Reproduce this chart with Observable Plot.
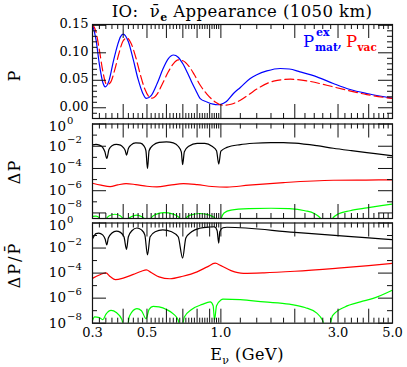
<!DOCTYPE html>
<html><head><meta charset="utf-8">
<script src="https://cdn.jsdelivr.net/npm/d3@7"></script>
<script src="https://cdn.jsdelivr.net/npm/@observablehq/plot@0.6"></script>
<style>
html,body{margin:0;padding:0;background:#fff;}
#chart{position:relative;width:407px;height:367px;overflow:hidden;font-family:"DejaVu Serif",serif;color:#000;}
#chart svg{position:absolute;left:0;top:0;}
.t{position:absolute;white-space:nowrap;line-height:1;font-family:"DejaVu Serif",serif;}
.s{font-weight:bold;}
</style></head><body><div id="chart"></div>
<script>
// ---------- data ----------
// top panel: oscillation probabilities
const E_mat = [0.30,0.31,0.32,0.331,0.338,0.35,0.365,0.38,0.39,0.40,0.42,0.44,0.46,0.48,0.497,0.52,0.55,0.58,0.61,0.641,0.67,0.70,0.73,0.76,0.79,0.824,0.877,0.93,0.97,1.0,1.05,1.125,1.2,1.317,1.4,1.539,1.745,1.9,2.1,2.46,2.87,3.36,3.93,4.5,5.0];
const P_mat = [0.152,0.124,0.079,0.045,0.038,0.049,0.085,0.115,0.129,0.134,0.120,0.087,0.052,0.027,0.017,0.022,0.044,0.070,0.089,0.096,0.092,0.080,0.064,0.047,0.032,0.0168,0.0106,0.0065,0.0055,0.0063,0.011,0.026,0.037,0.0533,0.060,0.067,0.0715,0.0705,0.0653,0.0562,0.0442,0.0332,0.026,0.021,0.0175];
const E_vac = [0.30,0.31,0.32,0.33,0.343,0.355,0.37,0.385,0.40,0.414,0.43,0.45,0.47,0.49,0.51,0.524,0.55,0.58,0.61,0.64,0.67,0.70,0.74,0.78,0.824,0.877,0.948,1.02,1.1,1.2,1.3,1.4,1.64,1.92,2.24,2.70,3.26,3.93,5.0];
const P_vac = [0.152,0.138,0.105,0.068,0.042,0.046,0.070,0.100,0.122,0.127,0.118,0.092,0.060,0.034,0.020,0.0175,0.025,0.045,0.065,0.080,0.087,0.0855,0.076,0.060,0.041,0.025,0.0106,0.0046,0.0065,0.0137,0.024,0.034,0.0484,0.052,0.049,0.041,0.032,0.024,0.0168];

// middle panel: Delta P
const E_dP_black = [0.30,0.31,0.32,0.33,0.337,0.343,0.35,0.36,0.375,0.39,0.40,0.408,0.4126,0.42,0.43,0.45,0.47,0.485,0.495,0.5025,0.51,0.53,0.56,0.60,0.64,0.67,0.69,0.6985,0.71,0.74,0.80,0.86,0.92,0.96,0.98,1.0,1.058,1.2,1.36,1.6,1.8,2.0,2.46,2.87,3.4,3.93,4.5,5.0];
const dP_black = [1.32e-2,1.48e-2,1.26e-2,7.94e-3,3.16e-3,7.94e-4,5.01e-3,1.12e-2,1.48e-2,1.26e-2,7.94e-3,3.98e-3,1.58e-3,6.31e-3,1.26e-2,2.0e-2,1.91e-2,1.12e-2,3.98e-3,1.0e-4,3.98e-3,1.26e-2,2.24e-2,2.51e-2,2.0e-2,1.0e-2,3.16e-3,2.24e-4,3.16e-3,1.0e-2,1.78e-2,1.78e-2,1.0e-2,3.98e-3,2.51e-4,3.55e-3,7.94e-3,1.41e-2,1.86e-2,2.14e-2,2.14e-2,1.91e-2,1.12e-2,6.61e-3,3.98e-3,2.63e-3,1.86e-3,1.41e-3];
const E_dP_red = [0.30,0.325,0.354,0.38,0.411,0.45,0.50,0.549,0.62,0.704,0.80,0.92,1.058,1.3,1.8,2.87,3.9,5.0];
const dP_red = [4.68e-6,3.16e-6,2.34e-6,3.31e-6,4.37e-6,3.55e-6,2.51e-6,2.24e-6,3.16e-6,4.37e-6,3.55e-6,2.40e-6,2.09e-6,3.16e-6,5.37e-6,8.71e-6,9.12e-6,9.33e-6];
const E_dP_green = [0.30,0.31,0.32,0.3326,0.3424,0.3515,0.370,0.389,0.398,0.408,0.420,0.431,0.454,0.477,0.488,0.50,0.52,0.54,0.585,0.64,0.675,0.6985,0.72,0.75,0.82,0.90,0.95,0.98,1.0,1.03,1.1,1.3,1.6,1.9,2.2,2.4,2.55,2.7,2.85,3.0,3.36,3.93,4.5,5.0];
const dP_green = [5.01e-9,5.25e-9,3.55e-9,3.16e-10,3.16e-9,5.62e-9,7.59e-9,5.62e-9,3.16e-9,3.16e-10,2.82e-9,4.47e-9,6.31e-9,4.47e-9,2.82e-9,3.16e-10,3.55e-9,7.08e-9,1.05e-8,7.94e-9,3.98e-9,3.16e-10,3.16e-9,6.31e-9,8.91e-9,6.31e-9,3.16e-9,3.16e-10,2.51e-9,1.0e-8,1.78e-8,2.40e-8,2.63e-8,2.40e-8,1.58e-8,8.91e-9,3.16e-9,3.16e-10,3.16e-9,7.94e-9,1.58e-8,2.82e-8,4.47e-8,6.31e-8];

// bottom panel: Delta P / P-bar
const E_rel_black = [0.30,0.31,0.318,0.33,0.338,0.343,0.348,0.36,0.375,0.39,0.403,0.4126,0.42,0.435,0.455,0.475,0.49,0.5025,0.515,0.54,0.58,0.63,0.67,0.6985,0.72,0.76,0.82,0.90,0.94,0.965,0.98,0.99,1.02,1.058,2.0,3.0,4.0,5.0];
const rel_black = [5.37e-2,0.141,0.158,0.112,5.01e-2,1.78e-2,6.31e-2,0.158,0.224,0.178,7.94e-2,7.94e-3,7.94e-2,0.251,0.398,0.282,0.112,2.82e-3,7.94e-2,0.2,0.282,0.2,7.94e-2,1.58e-3,6.31e-2,0.2,0.38,0.479,0.501,0.251,2.51e-2,0.2,0.417,0.457,0.178,9.77e-2,6.46e-2,4.68e-2];
const E_rel_red = [0.30,0.32,0.34,0.355,0.372,0.40,0.44,0.475,0.497,0.52,0.56,0.62,0.70,0.80,0.88,0.948,1.0,1.1,1.236,1.5,2.0,3.0,4.0,5.0];
const rel_red = [3.80e-5,7.08e-5,1.05e-4,5.01e-5,3.02e-5,3.98e-5,7.94e-5,1.41e-4,1.78e-4,1.12e-4,5.01e-5,3.55e-5,5.62e-5,1.26e-4,3.16e-4,6.17e-4,3.98e-4,1.58e-4,9.55e-5,1.05e-4,1.41e-4,2.51e-4,3.98e-4,6.03e-4];
const E_rel_green = [0.30,0.306,0.32,0.331,0.34,0.357,0.375,0.395,0.41,0.425,0.455,0.475,0.496,0.51,0.53,0.56,0.60,0.64,0.67,0.685,0.71,0.76,0.84,0.905,0.93,0.942,0.96,1.0,1.02,1.2,1.5,1.9,2.2,2.46,2.6,2.72,2.85,3.2,3.7,4.2,5.0];
const rel_green = [1.66e-8,3.16e-8,2.82e-8,1.91e-8,5.01e-8,1.05e-7,7.08e-8,2.0e-8,1e-9,3.98e-8,1.45e-7,1.0e-7,2.24e-8,1.26e-7,2.24e-7,2.0e-7,1.26e-7,5.62e-8,1.78e-8,1e-9,3.16e-8,1.26e-7,3.16e-7,5.01e-7,2.51e-7,1.86e-8,2.51e-7,7.08e-7,8.32e-7,7.59e-7,5.01e-7,3.31e-7,1.78e-7,6.31e-8,1.58e-8,1e-9,3.98e-8,2.0e-7,5.01e-7,1.0e-6,4.37e-6];

// ticks and tick labels
const xMajor = [0.3,0.4,0.5,0.6,0.7,0.8,0.9,1,2,3,4,5];
const xMinor = [0.32,0.34,0.36,0.38,0.42,0.44,0.46,0.48,0.52,0.54,0.56,0.58,0.62,0.64,0.66,0.68,0.72,0.74,0.76,0.78,0.82,0.84,0.86,0.88,0.92,0.94,0.96,0.98,1.2,1.4,1.6,1.8,2.2,2.4,2.6,2.8,3.2,3.4,3.6,3.8,4.2,4.4,4.6,4.8];
const xLabels = [0.3,0.5,1.0,3.0,5.0];
const xLabelText = ["0.3","0.5","1.0","3.0","5.0"];
const pMajor = [0,0.05,0.10,0.15];
const pLabelText = ["0.00","0.05","0.10","0.15"];
const pMinor = [-0.01,0.01,0.02,0.03,0.04,0.06,0.07,0.08,0.09,0.11,0.12,0.13,0.14];
const logMajor = [1,1e-2,1e-4,1e-6,1e-8];
const logExp = ["0","\u22122","\u22124","\u22126","\u22128"];
const logMinor = [1e-1,1e-3,1e-5,1e-7];

// ---------- layout ----------
const W = 407, H = 367, ML = 92, MR = 15, FW = W - ML - MR;
const TK = "#111", FONT = "DejaVu Serif";
const rows = (xs, vs) => xs.map((e, i) => ({E: e, v: vs[i]}));

function xTicks(h) {
  return [
    Plot.tickX(xMajor, {x: d => d, insetTop: h - 14, stroke: TK}),
    Plot.tickX(xMajor, {x: d => d, insetBottom: h - 14, stroke: TK}),
    Plot.tickX(xMinor, {x: d => d, insetTop: h - 5, stroke: TK}),
    Plot.tickX(xMinor, {x: d => d, insetBottom: h - 5, stroke: TK})
  ];
}
function yTicks(major, minor) {
  return [
    Plot.tickY(major, {y: d => d, insetRight: FW - 14, stroke: TK}),
    Plot.tickY(major, {y: d => d, insetLeft: FW - 14, stroke: TK}),
    Plot.tickY(minor, {y: d => d, insetRight: FW - 5, stroke: TK}),
    Plot.tickY(minor, {y: d => d, insetLeft: FW - 5, stroke: TK})
  ];
}
// shifts: small vertical nudges so that stacked labels of adjacent panels do not collide
function logLabels(shifts) {
  const marks = [];
  logMajor.forEach((v, i) => {
    const s = shifts[i] || 0;
    marks.push(Plot.text([v], {y: d => d, frameAnchor: "left", dx: -26.5, dy: s, textAnchor: "end", text: () => "10", fontSize: 13.5}));
    marks.push(Plot.text([v], {y: d => d, frameAnchor: "left", dx: -25.5, dy: s - 6, textAnchor: "start", text: () => logExp[i], fontSize: 10}));
  });
  return marks;
}
const line = (data, stroke, extra = {}) =>
  Plot.line(data, {x: "E", y: "v", stroke, strokeWidth: 1.2, curve: "monotone-x", clip: true, ...extra});
const style = {fontFamily: FONT, fontSize: "13px", background: "transparent", overflow: "visible", color: "#000"};

const top1 = 24, bot1 = 118, top2 = 123.5, bot2 = 218, top3 = 222.5, bot3 = 322.7;

const p1 = Plot.plot({
  width: W, height: H, marginLeft: ML, marginRight: MR, marginTop: top1, marginBottom: H - bot1, style,
  x: {type: "log", domain: [0.3, 5], axis: null},
  y: {domain: [-0.0195, 0.1515], axis: null},
  marks: [
    line(rows(E_mat, P_mat), "#0000ff"),
    line(rows(E_vac, P_vac), "#ff0000", {strokeDasharray: "9,4"}),
    ...xTicks(bot1 - top1),
    ...yTicks(pMajor, pMinor),
    Plot.frame({stroke: TK, strokeWidth: 1.2}),
    Plot.text(pMajor, {y: d => d, frameAnchor: "left", dx: -4, dy: -1, textAnchor: "end", text: (d, i) => pLabelText[i], fontSize: 13})
  ]
});

const p2 = Plot.plot({
  width: W, height: H, marginLeft: ML, marginRight: MR, marginTop: top2, marginBottom: H - bot2, style,
  x: {type: "log", domain: [0.3, 5], axis: null},
  y: {type: "log", domain: [Math.pow(10, -8.5), 1], axis: null},
  marks: [
    line(rows(E_dP_black, dP_black), "#000000"),
    line(rows(E_dP_red, dP_red), "#ff0000"),
    line(rows(E_dP_green, dP_green), "#00ff00"),
    ...xTicks(bot2 - top2),
    ...yTicks(logMajor, logMinor),
    Plot.frame({stroke: TK, strokeWidth: 1.2}),
    ...logLabels([3, 0, 0, 0, -3])
  ]
});

const p3 = Plot.plot({
  width: W, height: H, marginLeft: ML, marginRight: MR, marginTop: top3, marginBottom: H - bot3, style,
  x: {type: "log", domain: [0.3, 5], axis: null},
  y: {type: "log", domain: [1e-8, 1], axis: null},
  marks: [
    line(rows(E_rel_black, rel_black), "#000000"),
    line(rows(E_rel_red, rel_red), "#ff0000"),
    line(rows(E_rel_green, rel_green), "#00ff00"),
    ...xTicks(bot3 - top3),
    ...yTicks(logMajor, logMinor),
    Plot.frame({stroke: TK, strokeWidth: 1.2}),
    ...logLabels([3, 0, 0, 0, 0]),
    Plot.text(xLabels, {x: d => d, frameAnchor: "bottom", dy: 14, text: (d, i) => xLabelText[i], fontSize: 13})
  ]
});

const chart = document.getElementById("chart");
chart.append(p1, p2, p3);

// ---------- texts ----------
chart.insertAdjacentHTML("beforeend", `
<div class="t" style="left:242px;top:4px;transform:translateX(-50%);font-size:16.5px;letter-spacing:0.4px">IO: &nbsp;ν̄<span class="s" style="font-size:11px;position:relative;top:4px">e</span> Appearance (1050 km)</div>
<div class="t" style="left:303px;top:34px;font-size:16.5px;color:#0000ff">P</div>
<div class="t s" style="left:316px;top:27px;font-size:11px;color:#0000ff">ex</div>
<div class="t s" style="left:315px;top:42px;font-size:10.5px;color:#0000ff">mat</div>
<div class="t" style="left:337px;top:34px;font-size:16.5px;color:#0000ff">,</div>
<div class="t" style="left:346px;top:34px;font-size:16.5px;color:#ff0000">P</div>
<div class="t s" style="left:357.5px;top:42px;font-size:10.5px;color:#ff0000">vac</div>
<div class="t" style="left:15px;top:76px;transform:translate(-50%,-50%) rotate(-90deg);font-size:16px">P</div>
<div class="t" style="left:15px;top:172px;transform:translate(-50%,-50%) rotate(-90deg);font-size:16px;letter-spacing:1px">ΔP</div>
<div class="t" style="left:15px;top:265px;transform:translate(-50%,-50%) rotate(-90deg);font-size:16px;letter-spacing:2px">ΔP/P̄</div>
<div class="t" style="left:247px;top:347px;transform:translateX(-50%);font-size:16px;letter-spacing:0.5px">E<span style="font-size:11px;position:relative;top:4px">ν</span> (GeV)</div>
`);
</script></body></html>
